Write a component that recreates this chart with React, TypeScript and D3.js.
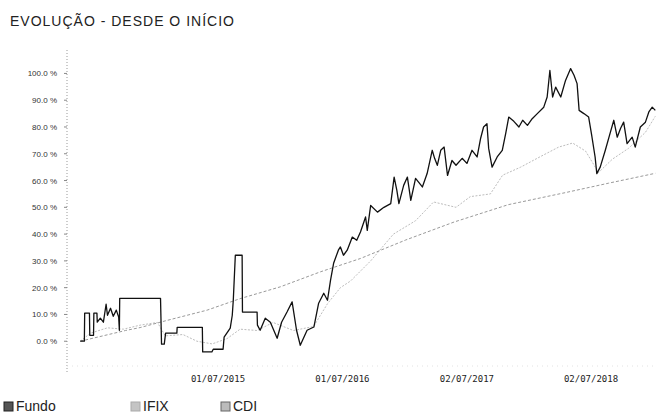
import React from 'react';
import * as d3 from 'd3';

// Cumulative return (%)
const fundoDates = [
  '2014-05-22', '2014-06-03', '2014-06-04', '2014-06-18', '2014-06-19', '2014-06-30', '2014-07-01',
  '2014-07-10', '2014-07-11', '2014-07-20', '2014-07-29', '2014-08-06', '2014-08-10', '2014-08-19',
  '2014-08-27', '2014-09-05', '2014-09-12', '2014-09-14', '2014-09-15', '2015-01-13', '2015-01-16',
  '2015-01-24', '2015-01-28', '2015-03-02', '2015-03-03', '2015-05-16', '2015-05-17', '2015-06-13',
  '2015-06-17', '2015-07-16', '2015-07-19', '2015-08-06', '2015-08-12', '2015-08-15', '2015-08-21',
  '2015-09-10', '2015-09-11', '2015-10-24', '2015-10-25', '2015-11-02', '2015-11-17', '2015-12-02',
  '2015-12-22', '2016-01-04', '2016-01-20', '2016-02-04', '2016-02-17', '2016-02-28', '2016-03-19',
  '2016-04-08', '2016-04-22', '2016-05-07', '2016-05-18', '2016-05-27', '2016-06-05', '2016-06-19',
  '2016-06-25', '2016-07-04', '2016-07-15', '2016-07-30', '2016-08-12', '2016-08-23', '2016-09-07',
  '2016-09-12', '2016-09-22', '2016-10-12', '2016-10-31', '2016-11-20', '2016-11-30', '2016-12-08',
  '2016-12-14', '2016-12-28', '2017-01-08', '2017-01-18', '2017-02-01', '2017-02-21', '2017-03-07',
  '2017-03-22', '2017-03-29', '2017-04-06', '2017-04-16', '2017-04-26', '2017-05-06', '2017-05-19',
  '2017-05-31', '2017-06-18', '2017-07-02', '2017-07-17', '2017-08-01', '2017-08-11', '2017-08-20',
  '2017-08-30', '2017-09-04', '2017-09-14', '2017-09-29', '2017-10-14', '2017-10-24', '2017-11-02',
  '2017-11-17', '2017-12-02', '2017-12-13', '2017-12-27', '2018-01-10', '2018-01-25', '2018-02-13',
  '2018-02-23', '2018-03-03', '2018-03-11', '2018-03-20', '2018-04-04', '2018-04-18', '2018-05-03',
  '2018-05-13', '2018-05-22', '2018-05-28', '2018-06-11', '2018-06-25', '2018-07-04', '2018-07-14',
  '2018-07-19', '2018-07-29', '2018-08-13', '2018-08-28', '2018-09-07', '2018-09-17', '2018-09-27',
  '2018-10-06', '2018-10-16', '2018-10-31', '2018-11-09', '2018-11-24', '2018-12-09', '2018-12-19',
  '2018-12-29', '2019-01-07',
];
const fundoValues = [
  0.0, 0.0, 10.5, 10.5, 2.2, 2.2, 10.5,
  10.5, 7.1, 8.6, 7.1, 13.8, 9.7, 12.3,
  9.3, 11.6, 9.0, 4.1, 16.0, 16.0, -1.1,
  -1.1, 3.0, 3.0, 5.2, 5.2, -4.0, -4.0,
  -3.0, -3.0, 1.5, 4.9, 9.7, 15.3, 32.1,
  32.1, 10.9, 10.9, 6.0, 4.1, 8.6, 7.1,
  1.1, 7.1, 10.9, 14.7, 4.1, -1.5, 4.1,
  5.3, 14.2, 17.9, 15.3, 22.8, 29.1, 34.0,
  35.2, 32.1, 34.0, 38.9, 37.7, 40.8, 46.4,
  41.4, 50.7, 48.2, 50.0, 51.4, 61.3, 56.3,
  51.4, 58.2, 61.3, 52.6, 60.8, 57.6, 62.6,
  71.3, 68.3, 65.7, 71.3, 72.5, 61.9, 67.5,
  65.7, 68.3, 66.4, 71.3, 68.8, 75.6, 80.0,
  81.2, 72.0, 65.0, 68.8, 71.3, 77.5, 83.7,
  82.1, 80.0, 82.5, 80.6, 83.1, 85.0, 87.4,
  91.2, 101.1, 91.2, 94.9, 91.2, 97.4, 101.8,
  99.3, 96.2, 86.2, 85.0, 83.7, 76.9, 68.8,
  62.6, 65.0, 71.3, 78.1, 82.5, 76.2, 79.5,
  81.8, 73.8, 76.2, 72.5, 80.0, 81.8, 85.6,
  87.4, 86.2,
];

const ifixDates = [
  '2014-05-22', '2014-06-21', '2014-08-10', '2014-09-26', '2014-11-14', '2015-01-04', '2015-01-27',
  '2015-03-20', '2015-04-30', '2015-06-14', '2015-07-28', '2015-09-04', '2015-10-24', '2015-12-10',
  '2016-02-08', '2016-04-07', '2016-05-18', '2016-06-25', '2016-07-25', '2016-09-22', '2016-11-28',
  '2017-02-01', '2017-03-26', '2017-05-31', '2017-07-12', '2017-09-09', '2017-10-15', '2017-12-07',
  '2018-02-04', '2018-03-29', '2018-05-09', '2018-06-16', '2018-07-24', '2018-09-03', '2018-10-20',
  '2018-12-09', '2019-01-07',
];
const ifixValues = [
  0.0, 3.0, 5.0, 4.5, 6.0, 7.0, 2.0,
  2.5, 0.0, -1.0, 1.0, 4.5, 4.0, 7.0,
  4.0, 5.5, 14.0, 20.0, 22.5, 30.0, 40.0,
  45.0, 52.0, 50.0, 54.0, 55.0, 62.0, 65.0,
  69.0, 72.5, 74.0, 71.0, 63.0, 68.0, 72.0,
  78.0, 84.0,
];

const cdiDates = [
  '2014-05-22', '2014-10-02', '2014-11-14', '2015-02-02', '2015-05-30', '2015-09-04', '2015-12-31',
  '2016-04-27', '2016-08-23', '2017-01-03', '2017-05-25', '2017-11-01', '2018-04-18', '2018-08-22',
  '2019-01-07',
];
const cdiValues = [
  0.0, 4.0, 5.1, 7.8, 11.6, 15.9, 20.3,
  25.9, 30.9, 37.8, 44.5, 51.0, 55.5, 59.0,
  62.7,
];

const yTicks = [0, 10, 20, 30, 40, 50, 60, 70, 80, 90, 100];
const xTickDates = ['2015-07-01', '2016-07-01', '2017-07-02', '2018-07-02'];
const legendLabels = ['Fundo', 'IFIX', 'CDI'];

const width = 657;
const height = 416;

const parse = d3.timeParse('%Y-%m-%d');
const fmt = d3.timeFormat('%d/%m/%Y');

export default function App() {
  const x = d3.scaleTime()
    .domain([parse('2014-04-13'), parse('2019-01-12')])
    .range([67, 657]);
  const y = d3.scaleLinear().domain([-10, 108]).range([368, 52]);

  const toPts = (dates: string[], vals: number[]) => dates.map((d, i) => ({ d: parse(d), v: vals[i] }));
  const line = d3.line<any>().x(p => x(p.d)).y(p => y(p.v));

  const series = [
    { name: 'IFIX', pts: toPts(ifixDates, ifixValues), stroke: '#bdbdbd', w: 1, dash: '2,1.5' },
    { name: 'CDI', pts: toPts(cdiDates, cdiValues), stroke: '#9a9a9a', w: 1, dash: '3,2' },
    { name: 'Fundo', pts: toPts(fundoDates, fundoValues), stroke: '#111', w: 1.3, dash: null },
  ];

  const swatches = [
    { fill: '#555', stroke: '#222', x: 4, tx: 16 },
    { fill: '#c4c4c4', stroke: '#aaa', x: 131, tx: 143 },
    { fill: '#bbb', stroke: '#666', x: 221, tx: 233 },
  ];

  return (
    <svg width={width} height={height} style={{ position: 'absolute', left: 0, top: 0, background: '#fff' }}>
      <text x={10} y={26} fontFamily="Liberation Sans, Arial, sans-serif" fontSize={14} letterSpacing={1} fill="#222">
        EVOLUÇÃO - DESDE O INÍCIO
      </text>

      {/* y axis */}
      <line x1={67} x2={67} y1={50} y2={372} stroke="#999" strokeDasharray="1,2" />
      <line x1={67} x2={657} y1={366} y2={366} stroke="#e2e2e2" strokeDasharray="1,4" />
      {yTicks.map(t => (
        <g key={t}>
          <line x1={64} x2={67} y1={y(t)} y2={y(t)} stroke="#888" />
          <text x={57} y={y(t) + 3} textAnchor="end" fontFamily="Liberation Sans, Arial, sans-serif"
            fontSize={8} fill="#333">
            {t.toFixed(1) + ' %'}
          </text>
        </g>
      ))}

      {xTickDates.map(d => (
        <text key={d} x={x(parse(d))} y={382} textAnchor="middle" fontFamily="DejaVu Sans Mono, monospace"
          fontSize={9} fill="#222">
          {fmt(parse(d))}
        </text>
      ))}

      {series.map(s => (
        <path key={s.name} d={line(s.pts) || ''} fill="none" stroke={s.stroke} strokeWidth={s.w}
          strokeDasharray={s.dash || undefined} strokeLinejoin="round" />
      ))}

      {legendLabels.map((l, i) => (
        <g key={l}>
          <rect x={swatches[i].x} y={402} width={9} height={9} fill={swatches[i].fill} stroke={swatches[i].stroke} />
          <text x={swatches[i].tx} y={411} fontFamily="Liberation Sans, Arial, sans-serif" fontSize={14} fill="#222">
            {l}
          </text>
        </g>
      ))}
    </svg>
  );
}
